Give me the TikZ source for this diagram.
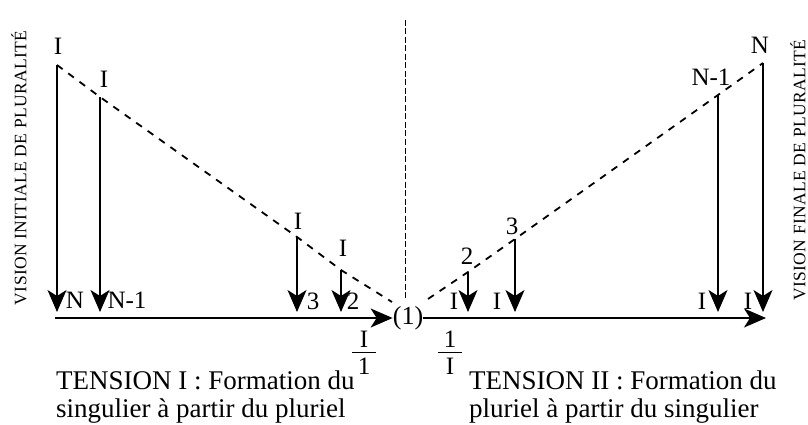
\documentclass[tikz,border=0pt]{standalone}
\usepackage{fontspec}
\setmainfont{Liberation Serif}
\usetikzlibrary{arrows.meta}
\begin{document}
\begin{tikzpicture}[x=1pt,y=-1pt,
  varrow/.style={line width=1.1pt,-{Stealth[length=22pt,width=19pt,inset=6pt]}},
  haxis/.style={line width=1.3pt,-{Stealth[length=22pt,width=19pt,inset=6pt]}},
  dline/.style={line width=1.8pt,dash pattern=on 7pt off 7pt},
  vdash/.style={line width=0.9pt,dash pattern=on 6pt off 2.5pt},
  lab/.style={font=\fontsize{25}{25}\selectfont,inner sep=0pt},
  txt/.style={font=\fontsize{27}{28}\selectfont,inner sep=0pt,align=left},
  vtxt/.style={font=\fontsize{17.5}{17.5}\selectfont\addfontfeature{LetterSpace=2},inner sep=0pt,rotate=90},
]
\useasboundingbox (0,0) rectangle (808,425);

% vertical side texts
\node[vtxt] (vL) at (19,168) {VISION INITIALE DE PLURALITÉ};
\node[vtxt] (vR) at (798,170) {VISION FINALE DE PLURALITÉ};

% central dashed separator
\coordinate (sT) at (405,20);
\coordinate (sB) at (405,300);
\draw[vdash] (sT) -- (sB);

% left side points
\coordinate (a1) at (57,65);
\coordinate (a2) at (100,97);
\coordinate (a3) at (297,237);
\coordinate (a4) at (341,270);
\coordinate (a1b) at (57,312);
\coordinate (a2b) at (100,312);
\coordinate (a3b) at (297,312);
\coordinate (a4b) at (341,312);
\coordinate (cL) at (392,302);

% right side points
\coordinate (cR) at (428,299);
\coordinate (b2) at (468,272);
\coordinate (b3) at (515,239);
\coordinate (b4) at (718,95);
\coordinate (b5) at (763,63);
\coordinate (b2b) at (468,312);
\coordinate (b3b) at (515,312);
\coordinate (b4b) at (718,312);
\coordinate (b5b) at (763,312);

% axes
\node[font=\fontsize{26}{26}\selectfont,inner sep=0pt] (one) at (408,318) {(1)};
\coordinate (hL) at (55,318);
\coordinate (hR) at (766,318);
\draw[haxis] (hL) -- (one.west);
\draw[haxis] (one.east) -- (hR);

% dashed diagonals
\draw[dline] (a1) -- (a2) -- (a3) -- (a4) -- (cL);
\draw[dline] (cR) -- (b2) -- (b3) -- (b4) -- (b5);

% vertical arrows
\draw[varrow] (a1) -- (a1b);
\draw[varrow] (a2) -- (a2b);
\draw[varrow] (a3) -- (a3b);
\draw[varrow] (a4) -- (a4b);
\draw[varrow] (b2) -- (b2b);
\draw[varrow] (b3) -- (b3b);
\draw[varrow] (b4) -- (b4b);
\draw[varrow] (b5) -- (b5b);

% labels left
\node[lab] (l1) at (58,46) {I};
\node[lab] (l2) at (104,79) {I};
\node[lab] (l3) at (298,221) {I};
\node[lab] (l4) at (343,248) {I};
\node[lab] (n1) at (75,300) {N};
\node[lab] (n2) at (127,300) {N-1};
\node[lab] (n3) at (313,301) {3};
\node[lab] (n4) at (353,301) {2};

% labels right
\node[lab] (r2) at (467,256) {2};
\node[lab] (r3) at (512,226) {3};
\node[lab] (r4) at (711,77) {N-1};
\node[lab] (r5) at (760,45) {N};
\node[lab] (i2) at (454,301) {I};
\node[lab] (i3) at (497,301) {I};
\node[lab] (i4) at (702,301) {I};
\node[lab] (i5) at (748,301) {I};

% fractions
\node[lab] (fLn) at (364,339) {I};
\node[lab] (fLd) at (364,366) {1};
\draw[line width=0.9pt] (352,352) -- (376,352);
\node[lab] (fRn) at (450,339) {1};
\node[lab] (fRd) at (450,366) {I};
\draw[line width=0.9pt] (438,352) -- (462,352);

% captions
\node[txt,anchor=west] (t1) at (56,397) {TENSION I : Formation du\\singulier à partir du pluriel};
\node[txt,anchor=west] (t2) at (469,397) {TENSION II : Formation du\\pluriel à partir du singulier};
\end{tikzpicture}
\end{document}
